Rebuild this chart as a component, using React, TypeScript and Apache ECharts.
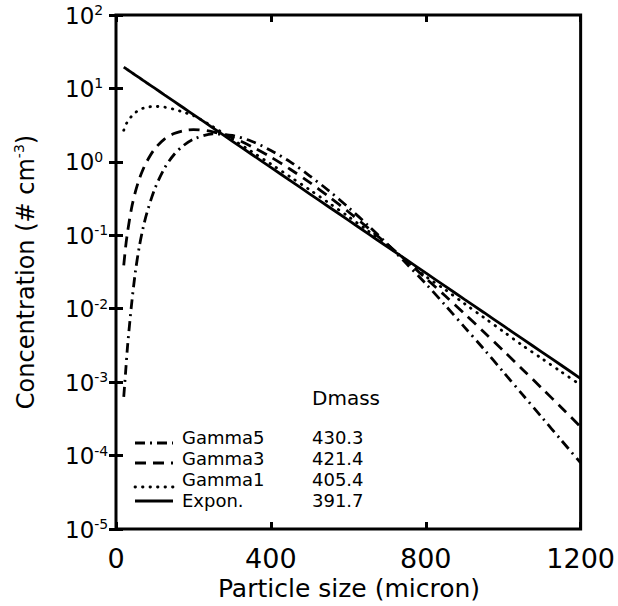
import React, { useEffect, useRef } from 'react';
import * as echarts from 'echarts';

// Particle size (micron)
const sizes = [20, 25, 30, 40, 50, 60, 70, 80, 100, 125, 150, 175, 200, 250, 300, 350, 400, 450, 500, 550, 600, 650, 700, 750, 800, 850, 900, 950, 1000, 1050, 1100, 1150, 1200];

// Concentration (# cm^-3)
const gamma5Values = [0.000631, 0.00141, 0.00316, 0.0112, 0.0316, 0.0692, 0.126, 0.204, 0.427, 0.813, 1.26, 1.68, 2.04, 2.40, 2.29, 1.91, 1.43, 1.0, 0.646, 0.403, 0.24, 0.138, 0.0767, 0.0412, 0.0219, 0.0112, 0.00562, 0.00282, 0.00138, 0.000676, 0.000331, 0.000162, 0.0000794];
const gamma3Values = [0.0389, 0.0708, 0.112, 0.232, 0.389, 0.582, 0.794, 1.023, 1.50, 2.04, 2.43, 2.66, 2.75, 2.57, 2.14, 1.62, 1.16, 0.794, 0.525, 0.335, 0.209, 0.127, 0.0759, 0.0449, 0.026, 0.015, 0.00855, 0.00482, 0.0027, 0.00149, 0.000824, 0.000452, 0.000246];
const gamma1Values = [2.69, 3.16, 3.55, 4.17, 4.68, 5.13, 5.37, 5.56, 5.69, 5.56, 5.19, 4.73, 4.27, 3.02, 2.04, 1.38, 0.933, 0.624, 0.417, 0.275, 0.18, 0.116, 0.0733, 0.0452, 0.0275, 0.0182, 0.0117, 0.00759, 0.0049, 0.00316, 0.00209, 0.00138, 0.000912];
const exponValues = [19.5, 18.71, 17.95, 16.52, 15.21, 14.0, 12.88, 11.86, 10.07, 8.18, 6.65, 5.41, 4.40, 2.91, 1.92, 1.27, 0.841, 0.556, 0.367, 0.243, 0.161, 0.106, 0.0703, 0.0465, 0.0307, 0.0203, 0.0134, 0.00889, 0.00587, 0.00388, 0.00257, 0.0017, 0.00112];

const seriesNames = ['Gamma5', 'Gamma3', 'Gamma1', 'Expon.'];
const dmassValues = ['430.3', '421.4', '405.4', '391.7'];
const dmassTitle = 'Dmass';
const xTitle = 'Particle size (micron)';

const FONT = 'DejaVu Sans';

export default function App() {
  const ref = useRef<HTMLDivElement>(null);

  useEffect(() => {
    const chart = echarts.init(ref.current as HTMLDivElement, null, { renderer: 'svg' });
    const pair = (v: number[]) => sizes.map((d, i) => [d, v[i]]);
    const allValues = [gamma5Values, gamma3Values, gamma1Values, exponValues];
    const dashes: any[] = [[10, 5, 2, 5], [11, 7], [0.5, 7], 'solid'];
    const caps = ['butt', 'butt', 'round', 'butt'];

    const tick = { inside: true, length: 7, lineStyle: { width: 3, color: '#000' } };

    const legendLineY = [443, 463, 487, 501];
    const rowY = [437, 458, 479, 500];

    const small = { fontSize: 18, fontFamily: FONT, fill: '#000', align: 'left', verticalAlign: 'middle' };

    const graphic: any[] = [
      {
        type: 'text',
        x: 25,
        y: 272,
        rotation: Math.PI / 2,
        style: {
          text: '{t|Concentration (# cm}{s|-3}{t|)}',
          align: 'center',
          verticalAlign: 'middle',
          rich: {
            t: { fontSize: 24, fontFamily: FONT, fill: '#000', color: '#000', lineHeight: 26, verticalAlign: 'bottom' },
            s: { fontSize: 14, fontFamily: FONT, fill: '#000', color: '#000', lineHeight: 14, verticalAlign: 'top' },
          },
        },
      },
      {
        type: 'text',
        x: 349,
        y: 588,
        style: { text: xTitle, fontSize: 25, fontFamily: FONT, fill: '#000', align: 'center', verticalAlign: 'middle' },
      },
      {
        type: 'text',
        x: 312,
        y: 398,
        style: { ...small, fontSize: 20, text: dmassTitle },
      },
    ];
    seriesNames.forEach((name, i) => {
      graphic.push({
        type: 'line',
        shape: { x1: 135, y1: legendLineY[i], x2: 173, y2: legendLineY[i] },
        style: {
          stroke: '#000',
          lineWidth: 2.8,
          lineDash: dashes[i] === 'solid' ? null : dashes[i],
          lineCap: caps[i],
        },
      });
      graphic.push({
        type: 'text',
        x: 182,
        y: rowY[i],
        style: { ...small, text: name },
      });
      graphic.push({
        type: 'text',
        x: 312,
        y: rowY[i],
        style: { ...small, text: dmassValues[i] },
      });
    });

    chart.setOption({
      animation: false,
      backgroundColor: '#fff',
      grid: {
        left: 116,
        right: 35,
        top: 15,
        bottom: 77,
        show: true,
        borderColor: '#000',
        borderWidth: 3,
        backgroundColor: 'transparent',
      },
      xAxis: [
        {
          type: 'value',
          min: 0,
          max: 1200,
          interval: 400,
          position: 'bottom',
          axisLine: { show: false },
          axisTick: tick,
          splitLine: { show: false },
          axisLabel: { fontSize: 27, fontFamily: FONT, color: '#000', margin: 16, formatter: (v: number) => String(v) },
        },
        {
          type: 'value',
          min: 0,
          max: 1200,
          interval: 400,
          position: 'top',
          axisLine: { show: false },
          axisTick: tick,
          splitLine: { show: false },
          axisLabel: { show: false },
        },
      ],
      yAxis: [
        {
          type: 'log',
          logBase: 10,
          min: 1e-5,
          max: 100,
          splitNumber: 7,
          position: 'left',
          axisLine: { show: false },
          axisTick: tick,
          minorTick: { show: false },
          splitLine: { show: false },
          axisLabel: {
            margin: 51,
            align: 'left',
            formatter: (v: number) => `{b|10}{s|${Math.round(Math.log10(v))}}`,
            rich: {
              b: { fontSize: 23, fontFamily: FONT, color: '#000', lineHeight: 24, verticalAlign: 'bottom' },
              s: { fontSize: 14, fontFamily: FONT, color: '#000', lineHeight: 14, verticalAlign: 'top' },
            },
          },
        },
        {
          type: 'log',
          logBase: 10,
          min: 1e-5,
          max: 100,
          splitNumber: 7,
          position: 'right',
          axisLine: { show: false },
          axisTick: tick,
          minorTick: { show: false },
          splitLine: { show: false },
          axisLabel: { show: false },
        },
      ],
      series: seriesNames.map((name, i) => ({
        name,
        type: 'line',
        xAxisIndex: 0,
        yAxisIndex: 0,
        data: pair(allValues[i]),
        showSymbol: false,
        smooth: 0.3,
        clip: true,
        lineStyle: { color: '#000', width: 2.8, type: dashes[i], cap: caps[i] },
        z: 3,
      })),
      graphic,
    });

    return () => chart.dispose();
  }, []);

  return <div ref={ref} style={{ position: 'absolute', left: 0, top: 0, width: 618, height: 606 }} />;
}
